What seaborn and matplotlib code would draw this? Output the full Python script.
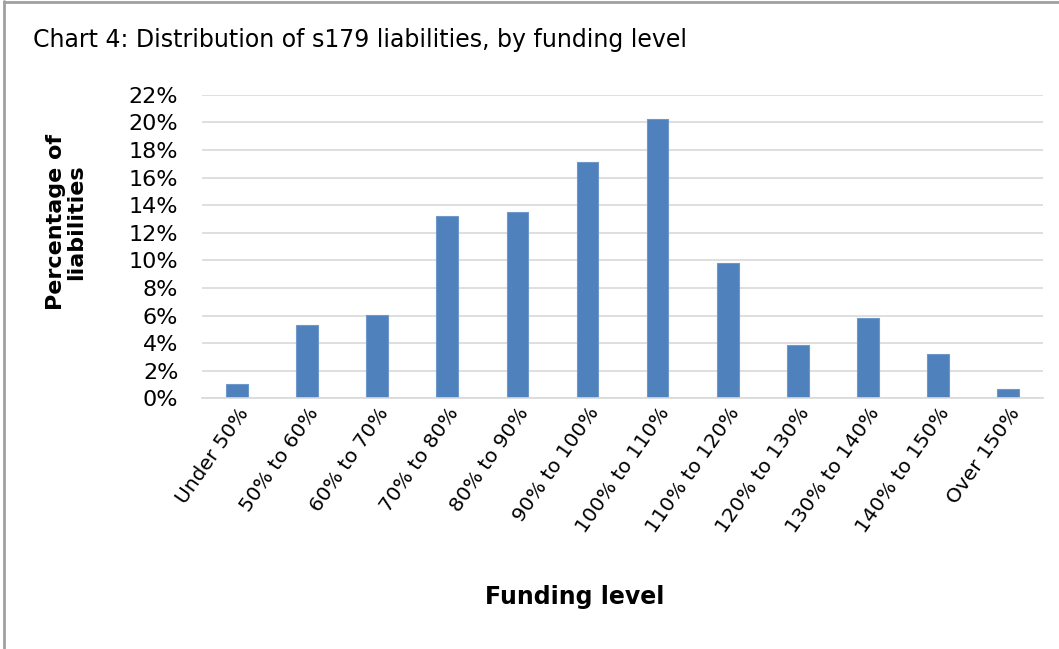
import matplotlib
matplotlib.use("Agg")
import matplotlib.pyplot as plt
import pandas as pd
import seaborn as sns
from matplotlib.ticker import PercentFormatter

categories = ["Under 50%", "50% to 60%", "60% to 70%", "70% to 80%", "80% to 90%",
              "90% to 100%", "100% to 110%", "110% to 120%", "120% to 130%",
              "130% to 140%", "140% to 150%", "Over 150%"]
share = [1.0, 5.3, 6.05, 13.2, 13.5, 17.1, 20.25, 9.8, 3.85, 5.8, 3.2, 0.65]
y_ticks = list(range(0, 23, 2))

df = pd.DataFrame({"level": categories, "share": share})

sns.set_theme(style="white")
plt.rcParams["font.family"] = ["DejaVu Sans"]
plt.rcParams["text.color"] = "black"

fig = plt.figure(figsize=(10.59, 6.49), dpi=100)
ax = fig.add_axes([0.1907, 0.3863, 0.7943, 0.4677])

sns.barplot(data=df, x="level", y="share", color="#4F81BD", width=0.31,
            edgecolor="#6E98CC", linewidth=0.8, saturation=1, ax=ax)

ax.set_ylim(0, 22)
ax.set_yticks(y_ticks)
ax.yaxis.set_major_formatter(PercentFormatter(decimals=0))
ax.grid(axis="y", color="#D9D9D9", linewidth=1.2)
ax.set_axisbelow(True)
for s in ["top", "right", "left"]:
    ax.spines[s].set_visible(False)
ax.spines["bottom"].set_color("#D9D9D9")
ax.spines["bottom"].set_linewidth(1.2)
ax.set_xlim(-0.5, len(categories) - 0.5)

ax.tick_params(axis="y", labelsize=16, labelcolor="black", length=0, pad=17)
ax.tick_params(axis="x", labelsize=14.5, labelcolor="black", length=0, pad=4)
plt.setp(ax.get_xticklabels(), rotation=55, ha="right", rotation_mode="anchor")
ax.set_xlabel("")
ax.set_ylabel("")

fig.text(0.062, 0.658, "Percentage of\nliabilities", rotation=90, ha="center",
         va="center", fontsize=16, fontweight="bold", linespacing=1.0, color="black")
fig.text(0.543, 0.08, "Funding level", ha="center", va="center",
         fontsize=17, fontweight="bold", color="black")
fig.text(0.031, 0.938, "Chart 4: Distribution of s179 liabilities, by funding level",
         ha="left", va="center", fontsize=17, color="black")

# outer frame (left and top edges visible in the reference)
fig.add_artist(plt.Line2D([0.004, 0.004], [0, 0.998], color="#A0A0A0", linewidth=2,
                          transform=fig.transFigure))
fig.add_artist(plt.Line2D([0.004, 1.0], [0.997, 0.997], color="#A0A0A0", linewidth=2,
                          transform=fig.transFigure))

fig.savefig("out.png", dpi=100, facecolor="white")
